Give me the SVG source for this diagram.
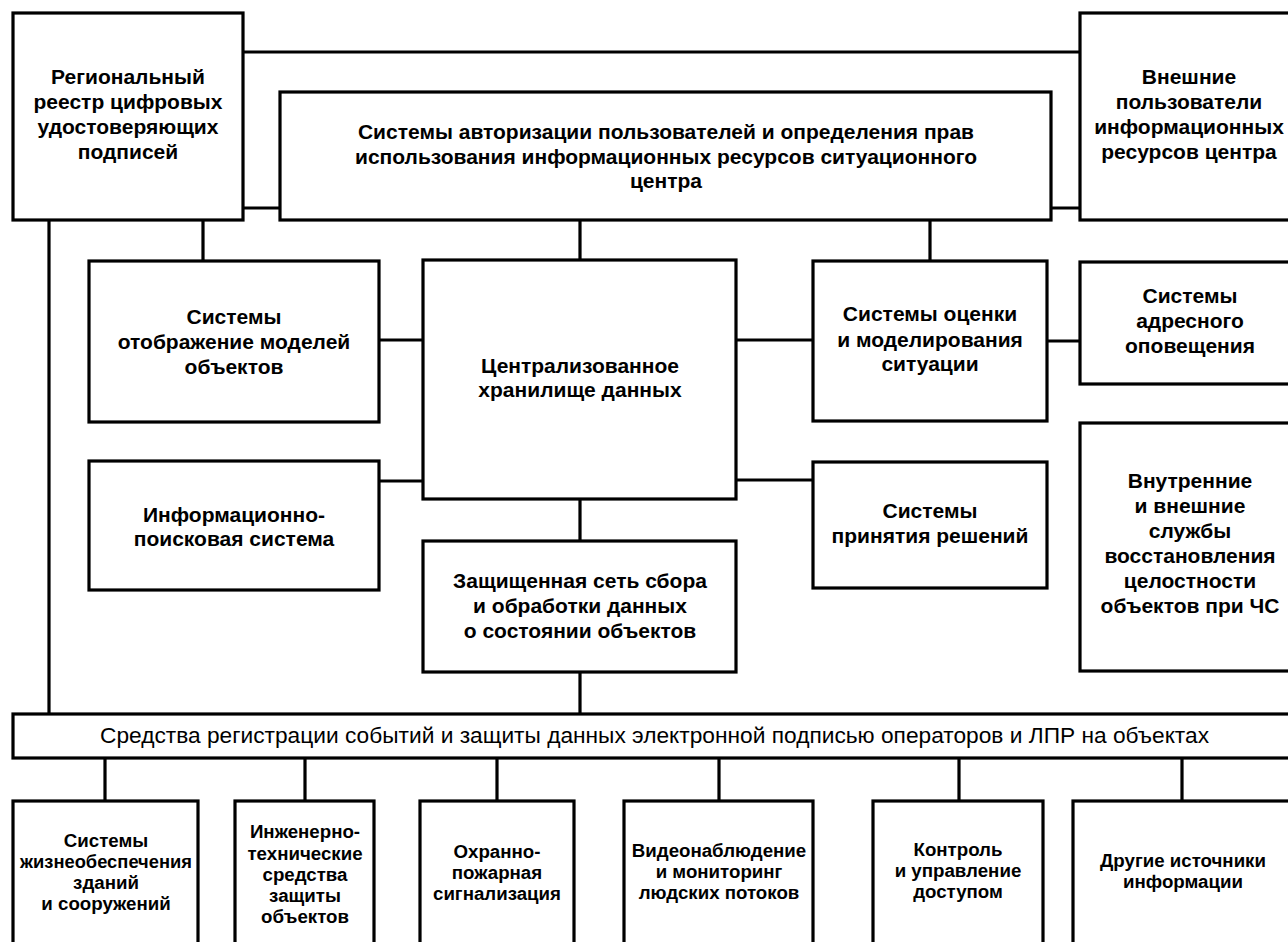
<svg xmlns="http://www.w3.org/2000/svg" width="1288" height="942" viewBox="0 0 1288 942">
<style>
.box{fill:#fff;stroke:#000;stroke-width:3.2}
.c{fill:none;stroke:#000;stroke-width:3.2}
text{font-family:"Liberation Sans",Arial,sans-serif;font-weight:bold;font-size:21px;fill:#000;text-anchor:middle}
.s{font-size:18.7px}
.bar{font-weight:normal;font-size:22px;text-anchor:start}
</style>
<rect width="1288" height="942" fill="#fff"/>
<g id="connectors">
<path class="c" d="M243,52H1080M243,208H280M1051,208H1080M49,220V714M203,220V261M580,220V260M930,220V261M379,340H423M379,481H423M736,340H813M736,480H813M1047,341H1080M580,499V541M580,672V714M105,758V801M305,758V801M497,758V801M719,758V801M959,758V801M1182,758V801"/>
</g>
<g id="n_reg"><rect class="box" x="13" y="13" width="230" height="207"/>
<text x="128" y="84">Региональный</text><text x="128" y="109">реестр цифровых</text><text x="128" y="134">удостоверяющих</text><text x="128" y="159">подписей</text></g>
<g id="n_ext"><rect class="box" x="1080" y="13" width="220" height="207"/>
<text x="1189" y="84">Внешние</text><text x="1189" y="109">пользователи</text><text x="1189" y="134">информационных</text><text x="1189" y="159">ресурсов центра</text></g>
<g id="n_auth"><rect class="box" x="280" y="92" width="771" height="128"/>
<text x="666" y="139">Системы авторизации пользователей и определения прав</text><text x="666" y="164">использования информационных ресурсов ситуационного</text><text x="666" y="188">центра</text></g>
<g id="n_display"><rect class="box" x="89" y="261" width="290" height="161"/>
<text x="234" y="324">Системы</text><text x="234" y="349">отображение моделей</text><text x="234" y="374">объектов</text></g>
<g id="n_search"><rect class="box" x="89" y="461" width="290" height="129"/>
<text x="234" y="522">Информационно-</text><text x="234" y="546">поисковая система</text></g>
<g id="n_storage"><rect class="box" x="423" y="260" width="313" height="239"/>
<text x="580" y="373">Централизованное</text><text x="580" y="397">хранилище данных</text></g>
<g id="n_protected"><rect class="box" x="423" y="541" width="313" height="131"/>
<text x="580" y="588">Защищенная сеть сбора</text><text x="580" y="613">и обработки данных</text><text x="580" y="638">о состоянии объектов</text></g>
<g id="n_eval"><rect class="box" x="813" y="261" width="234" height="160"/>
<text x="930" y="321">Системы оценки</text><text x="930" y="347">и моделирования</text><text x="930" y="371">ситуации</text></g>
<g id="n_addr"><rect class="box" x="1080" y="262" width="220" height="122"/>
<text x="1190" y="303">Системы</text><text x="1190" y="328">адресного</text><text x="1190" y="353">оповещения</text></g>
<g id="n_decision"><rect class="box" x="813" y="462" width="234" height="126"/>
<text x="930" y="518">Системы</text><text x="930" y="543">принятия решений</text></g>
<g id="n_internal"><rect class="box" x="1080" y="423" width="220" height="248"/>
<text x="1190" y="488">Внутренние</text><text x="1190" y="513">и внешние</text><text x="1190" y="538">службы</text><text x="1190" y="563">восстановления</text><text x="1190" y="588">целостности</text><text x="1190" y="613">объектов при ЧС</text></g>
<g id="n_bar"><rect class="box" x="13" y="714" width="1287" height="44"/>
<text class="bar" x="100" y="743" textLength="1109" lengthAdjust="spacingAndGlyphs">Средства регистрации событий и защиты данных электронной подписью операторов и ЛПР на объектах</text></g>
<g id="n_life"><rect class="box" x="13" y="801" width="185" height="160"/>
<text class="s" x="106" y="847">Системы</text><text class="s" x="106" y="868" textLength="172" lengthAdjust="spacingAndGlyphs">жизнеобеспечения</text><text class="s" x="106" y="889">зданий</text><text class="s" x="106" y="910">и сооружений</text></g>
<g id="n_eng"><rect class="box" x="235" y="801" width="139" height="160"/>
<text class="s" x="305" y="838">Инженерно-</text><text class="s" x="305" y="860">технические</text><text class="s" x="305" y="881">средства</text><text class="s" x="305" y="902">защиты</text><text class="s" x="305" y="923">объектов</text></g>
<g id="n_fire"><rect class="box" x="420" y="801" width="154" height="160"/>
<text class="s" x="497" y="858">Охранно-</text><text class="s" x="497" y="879">пожарная</text><text class="s" x="497" y="900">сигнализация</text></g>
<g id="n_video"><rect class="box" x="624" y="801" width="189" height="160"/>
<text class="s" x="719" y="857">Видеонаблюдение</text><text class="s" x="719" y="878">и мониторинг</text><text class="s" x="719" y="899">людских потоков</text></g>
<g id="n_access"><rect class="box" x="873" y="801" width="170" height="160"/>
<text class="s" x="958" y="856">Контроль</text><text class="s" x="958" y="877">и управление</text><text class="s" x="958" y="898">доступом</text></g>
<g id="n_other"><rect class="box" x="1073" y="801" width="227" height="160"/>
<text class="s" x="1183" y="867">Другие источники</text><text class="s" x="1183" y="888">информации</text></g>
</svg>
